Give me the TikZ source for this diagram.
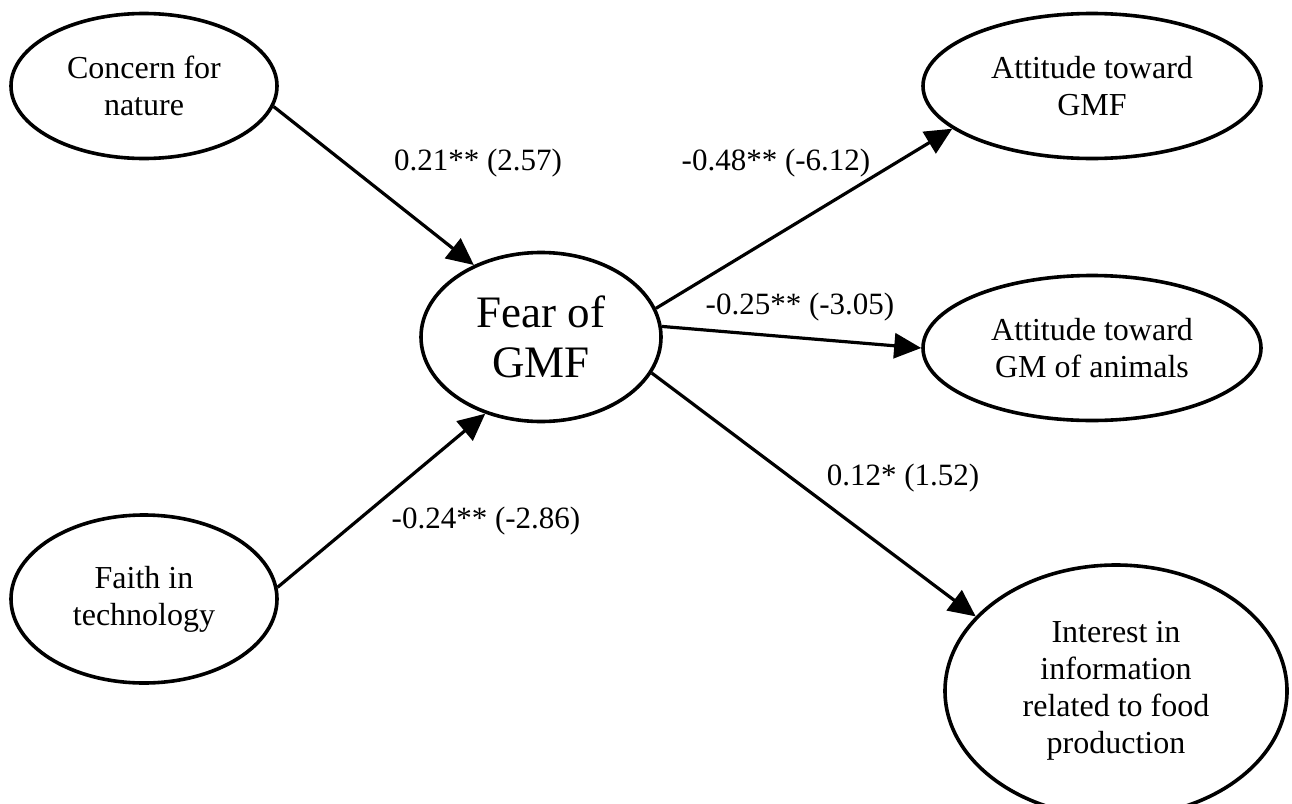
\documentclass[tikz,border=0pt]{standalone}
\usepackage{fontspec}
\setmainfont{Liberation Serif}
\usetikzlibrary{shapes.geometric,arrows.meta}
\begin{document}
\begin{tikzpicture}[x=1pt,y=-1pt,
  latent/.style={ellipse,draw,line width=3.6pt,inner sep=0pt,align=center,
    font=\fontsize{32}{37}\selectfont},
  path/.style={line width=3.2pt,-{Triangle[length=27pt,width=25pt]}},
  coef/.style={font=\fontsize{31}{36}\selectfont,inner sep=0pt}]
\useasboundingbox (0,0) rectangle (1292,803);
\node[latent,minimum width=266pt,minimum height=145pt] (concern) at (144,86) {Concern for\\nature};
\node[latent,minimum width=266pt,minimum height=168pt] (faith) at (144,599) {Faith in\\technology};
\node[latent,minimum width=240pt,minimum height=169pt,font=\fontsize{45}{50}\selectfont] (fear) at (541,337) {Fear of\\GMF};
\node[latent,minimum width=338pt,minimum height=145pt] (att1) at (1092,86) {Attitude toward\\GMF};
\node[latent,minimum width=338pt,minimum height=145pt] (att2) at (1092,348) {Attitude toward\\GM of animals};
\node[latent,minimum width=342pt,minimum height=252pt] (int) at (1116,691) {Interest in\\information\\related to food\\production};
\draw[path] (concern.-9) -- (fear.133);
\draw[path] (faith.5) -- (fear.234);
\draw[path] (fear.14) -- (att1.197);
\draw[path] (fear.5) -- (att2.180);
\draw[path] (fear.-18) -- (int.152);
\node[coef] (c1) at (478,163) {0.21** (2.57)};
\node[coef] (c2) at (486,521) {-0.24** (-2.86)};
\node[coef] (c3) at (776,163) {-0.48** (-6.12)};
\node[coef] (c4) at (800,307) {-0.25** (-3.05)};
\node[coef] (c5) at (903,478) {0.12* (1.52)};
\end{tikzpicture}
\end{document}
